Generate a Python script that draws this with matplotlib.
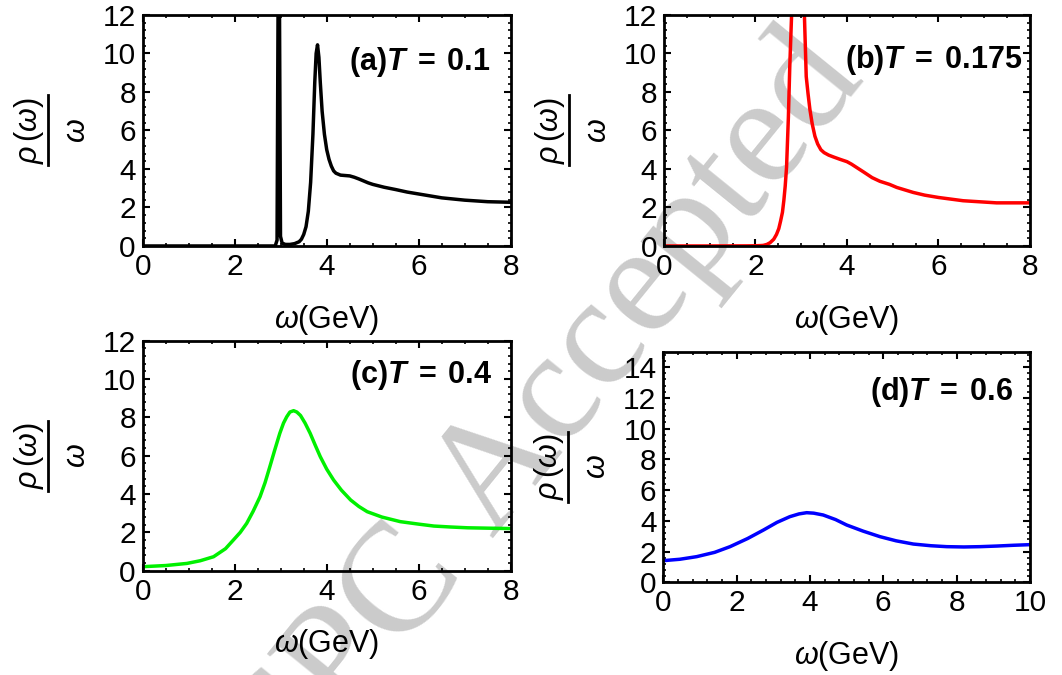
import matplotlib
matplotlib.use("Agg")
import matplotlib.pyplot as plt
from matplotlib.lines import Line2D
from matplotlib.ticker import MultipleLocator

plt.rcParams['font.family'] = ['Liberation Sans', 'DejaVu Sans']
plt.rcParams['mathtext.fontset'] = 'custom'
plt.rcParams['mathtext.rm'] = 'Liberation Sans'
plt.rcParams['mathtext.it'] = 'Liberation Sans:italic'
plt.rcParams['mathtext.bf'] = 'Liberation Sans:bold'
plt.rcParams['mathtext.sf'] = 'Liberation Sans:italic:bold'

# values (omega in GeV, rho/omega)
w_a = [0, 1.0, 2.0, 2.88, 2.92, 2.945, 2.97, 2.995, 3.03, 3.1, 3.2, 3.3, 3.4, 3.45, 3.5,
       3.55, 3.6, 3.65, 3.7, 3.74, 3.77, 3.8, 3.83, 3.86, 3.9, 3.95, 4.0, 4.05, 4.1,
       4.15, 4.2, 4.3, 4.4, 4.5, 4.6, 4.7, 4.8, 4.9, 5.0, 5.25, 5.5, 5.75, 6.0, 6.5,
       7.0, 7.5, 8.0]
r_a = [0, 0, 0, 0, 0.3, 14, 14, 0.5, 0.15, 0.08, 0.08, 0.12, 0.22, 0.35, 0.6,
       1.0, 1.8, 3.3, 5.8, 8.5, 10.0, 10.45, 9.8, 8.5, 7.0, 5.8, 5.0, 4.5, 4.15,
       3.9, 3.78, 3.68, 3.66, 3.64, 3.57, 3.48, 3.38, 3.28, 3.2, 3.05, 2.93, 2.8, 2.7, 2.5,
       2.38, 2.3, 2.27]

w_b = [0, 1.0, 1.8, 2.0, 2.1, 2.17, 2.25, 2.32, 2.4, 2.46, 2.51, 2.55, 2.59, 2.62, 2.65,
       2.68, 2.72, 2.75, 2.79, 2.85, 2.95, 3.03, 3.07, 3.11, 3.15, 3.19, 3.24, 3.3,
       3.36, 3.43, 3.5, 3.6, 3.71, 3.85, 4.0, 4.1, 4.21, 4.36, 4.55, 4.72, 4.93,
       5.09, 5.45, 5.7, 6.0, 6.54, 7.27, 8.0]
r_b = [0, 0, 0.005, 0.01, 0.02, 0.03, 0.08, 0.17, 0.35, 0.6, 0.9, 1.3, 1.75, 2.35, 3.1,
       4.1, 6.7, 9.3, 12.0, 20, 25, 16, 12.0, 8.8, 7.9, 7.1, 6.35, 5.7,
       5.3, 5.0, 4.85, 4.72, 4.62, 4.5, 4.38, 4.25, 4.08, 3.85, 3.55, 3.36, 3.2,
       3.04, 2.78, 2.64, 2.52, 2.35, 2.24, 2.24]

w_c = [0, 0.5, 0.96, 1.25, 1.54, 1.8, 1.97, 2.12, 2.26, 2.4, 2.55, 2.66, 2.76, 2.87,
       2.98, 3.06, 3.13, 3.2, 3.28, 3.35, 3.43, 3.53, 3.64, 3.75, 3.86, 4.0, 4.15, 4.32,
       4.52, 4.7, 4.88, 5.2, 5.6, 6.0, 6.33, 6.7, 7.06, 7.5, 8.0]
r_c = [0.21, 0.27, 0.38, 0.52, 0.73, 1.15, 1.6, 2.0, 2.47, 3.1, 3.86, 4.6, 5.4, 6.3,
       7.17, 7.7, 8.03, 8.28, 8.35, 8.28, 8.1, 7.7, 7.17, 6.55, 5.95, 5.3, 4.73, 4.2,
       3.69, 3.35, 3.08, 2.8, 2.56, 2.43, 2.33, 2.28, 2.24, 2.22, 2.2]

w_d = [0, 0.45, 0.91, 1.4, 1.82, 2.3, 2.73, 3.1, 3.45, 3.7, 3.91, 4.1, 4.36, 4.7,
       5.0, 5.45, 5.91, 6.35, 6.82, 7.3, 7.73, 8.2, 8.64, 9.1, 9.55, 10.0]
r_d = [1.41, 1.5, 1.67, 1.95, 2.32, 2.85, 3.4, 3.9, 4.27, 4.45, 4.53, 4.5, 4.38, 4.08,
       3.73, 3.33, 2.97, 2.7, 2.49, 2.38, 2.32, 2.3, 2.32, 2.36, 2.41, 2.45]

panels = [
    dict(w=w_a, r=r_a, color='black', tag='a', T='0.1', xmax=8, ymax=12, xminor=0.5,
         rect=[0.1344, 0.6356, 0.3465, 0.3422], lab=(0.944, 0.762)),
    dict(w=w_b, r=r_b, color='red', tag='b', T='0.175', xmax=8, ymax=12, xminor=0.5,
         rect=[0.6252, 0.6356, 0.3446, 0.3422], lab=(0.978, 0.771)),
    dict(w=w_c, r=r_c, color='#00f000', tag='c', T='0.4', xmax=8, ymax=12, xminor=0.5,
         rect=[0.1344, 0.1545, 0.3465, 0.3407], lab=(0.951, 0.816)),
    dict(w=w_d, r=r_d, color='blue', tag='d', T='0.6', xmax=10, ymax=15, xminor=0.4,
         rect=[0.6246, 0.1373, 0.3452, 0.3416], lab=(0.954, 0.79)),
]

W, H = 1062, 675
fig = plt.figure(figsize=(W / 100, H / 100), dpi=100)

# watermark behind everything
wm = dict(rotation=51, rotation_mode='anchor', va='baseline', fontsize=113,
          color='#cbcbcb', zorder=-5, family='Liberation Serif')
fig.text(0.6384, 0.5437, 'Accepted', ha='center', **wm)
fig.text(0.4369, 0.160, 'CPC', ha='right', **wm)

for p in panels:
    ax = fig.add_axes(p['rect'])
    ax.patch.set_alpha(0)
    ax.plot(p['w'], p['r'], color=p['color'], lw=2.5, solid_joinstyle='round')
    ax.set_xlim(0, p['xmax'])
    ax.set_ylim(0, p['ymax'])
    ax.xaxis.set_major_locator(MultipleLocator(2))
    ax.xaxis.set_minor_locator(MultipleLocator(p['xminor']))
    ax.yaxis.set_major_locator(MultipleLocator(2))
    ax.yaxis.set_minor_locator(MultipleLocator(0.4))
    ax.tick_params(which='both', direction='in', top=True, right=True,
                   labelsize=21.5, pad=5)
    ax.tick_params(which='major', length=5, width=1.5)
    ax.tick_params(which='minor', length=2.5, width=1.2)
    for s in ax.spines.values():
        s.set_linewidth(2)

    ax.set_xlabel(r'$\omega$(GeV)', fontsize=22)
    ax.xaxis.set_label_coords(0.5, -74 / 231)
    ax.xaxis.label.set_va('center')

    # y label: rho(omega) / omega written as a vertical fraction
    x0, y0, wd, ht = p['rect']
    yc = y0 + ht / 2
    fig.text(x0 - 114 / W, yc, r'$\rho\,(\omega)$', rotation=90,
             ha='center', va='center', fontsize=22)
    fig.text(x0 - 66 / W, yc, r'$\omega$', rotation=90,
             ha='center', va='center', fontsize=22)
    fig.add_artist(Line2D([x0 - 95 / W] * 2, [yc - 35 / H, yc + 35 / H],
                          transform=fig.transFigure, color='black', lw=2))

    ax.text(p['lab'][0], p['lab'][1],
            r'$\mathbf{(%s)}\mathsf{T}\mathbf{\;=\;%s}$' % (p['tag'], p['T']),
            transform=ax.transAxes, ha='right', va='baseline', fontsize=22)

fig.savefig('out.png', dpi=100)
